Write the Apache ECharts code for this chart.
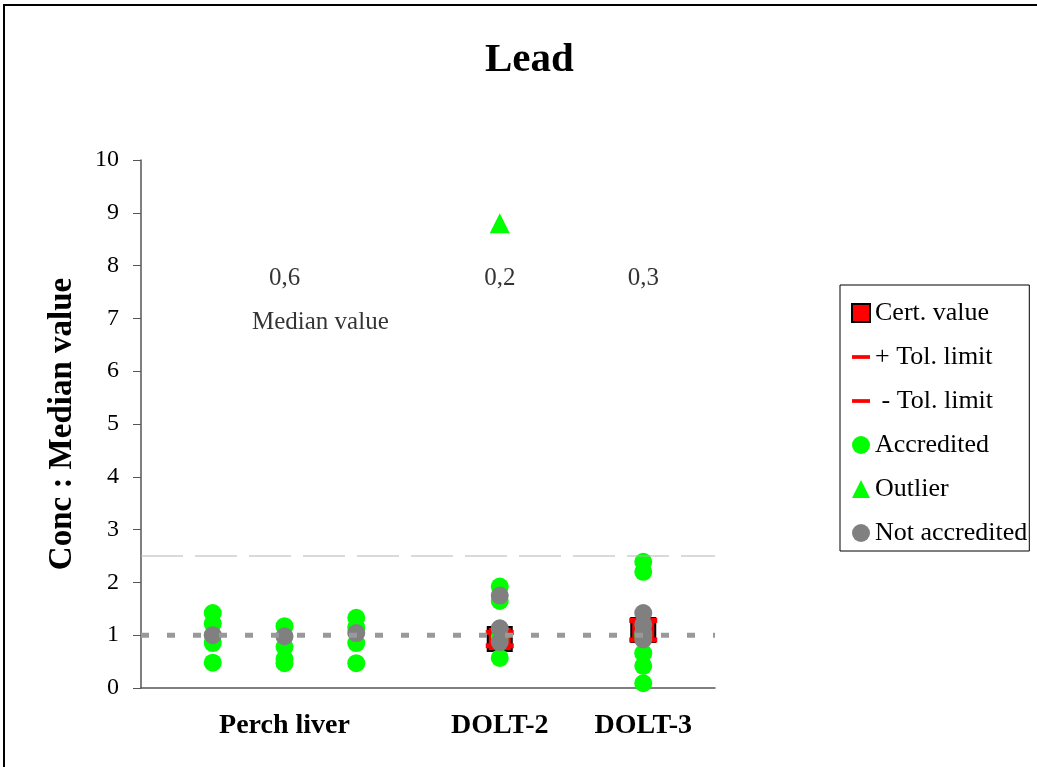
<!DOCTYPE html>
<html>
<head>
<meta charset="utf-8">
<script src="https://cdn.jsdelivr.net/npm/echarts@6/dist/echarts.min.js"></script>
<style>
html,body{margin:0;padding:0;background:#fff;}
#chart{width:1037px;height:767px;}
</style>
</head>
<body>
<div id="chart"></div>
<script>
// ---- data ----
const categoryPositions = [2, 5, 7];
const categoryLabels = ['Perch liver', 'DOLT-2', 'DOLT-3'];
const yTicks = [0,1,2,3,4,5,6,7,8,9,10];

const certValue = [[5, 0.93], [7, 1.10]];
const tolPlus = [[5, 1.05], [7, 1.28]];
const tolMinus = [[5, 0.80], [7, 0.91]];

const accredited = [
  [1, 1.42], [1, 1.22], [1, 0.85], [1, 0.48],
  [2, 1.17], [2, 0.78], [2, 0.55], [2, 0.47],
  [3, 1.33], [3, 1.15], [3, 0.85], [3, 0.47],
  [5, 1.92], [5, 1.65], [5, 0.97], [5, 0.57],
  [7, 2.39], [7, 2.20], [7, 1.00], [7, 0.66], [7, 0.42], [7, 0.09]
];
const outlier = [[5, 8.8]];
const notAccredited = [
  [1, 1.00],
  [2, 0.98],
  [3, 1.04],
  [5, 1.75], [5, 1.13], [5, 0.87],
  [7, 1.42], [7, 1.20], [7, 1.05], [7, 0.92]
];

const medianLabels = [
  { name: '0,6', value: [2, 7.75] },
  { name: '0,2', value: [5, 7.75] },
  { name: '0,3', value: [7, 7.75] },
  { name: 'Median value', value: [2.5, 6.93] }
];
const medianLine = [[0, 1], [8, 1]];
const upperLine = [[0, 2.5], [8, 2.5]];

// ---- chart ----
const FONT = 'Liberation Serif';
const chart = echarts.init(document.getElementById('chart'), null, { renderer: 'canvas' });
const labelMap = {};
categoryPositions.forEach((p, i) => { labelMap[p] = categoryLabels[i]; });
const tolPath = 'path://M0,0h24v5h-24z';

chart.setOption({
  backgroundColor: '#fff',
  animation: false,
  graphic: [{
    type: 'rect', z: 100, silent: true,
    shape: { x: 4, y: 5, width: 1200, height: 1000 },
    style: { fill: 'none', stroke: '#000', lineWidth: 2 }
  }],
  title: {
    text: 'Lead', left: 480, top: 35,
    textStyle: { fontFamily: FONT, fontSize: 41, fontWeight: 'bold', color: '#000' }
  },
  legend: {
    orient: 'vertical', left: 840, top: 285,
    padding: [15, 2, 5, 11],
    itemWidth: 18, itemHeight: 18, itemGap: 18,
    borderColor: '#000', borderWidth: 1,
    textStyle: { fontFamily: FONT, fontSize: 26, color: '#000' },
    data: [
      { name: 'Cert. value', icon: 'rect' },
      { name: '+ Tol. limit', icon: tolPath },
      { name: ' - Tol. limit', icon: tolPath },
      { name: 'Accredited', icon: 'circle' },
      { name: 'Outlier', icon: 'triangle' },
      { name: 'Not accredited', icon: 'circle' }
    ]
  },
  grid: { left: 141, right: 322, top: 160, bottom: 79 },
  xAxis: {
    type: 'value', min: 0, max: 8, interval: 1,
    axisLine: { show: true, lineStyle: { color: '#555', width: 1.5 } },
    axisTick: { show: false },
    splitLine: { show: false },
    axisLabel: {
      margin: 24,
      fontFamily: FONT, fontSize: 28, fontWeight: 'bold', color: '#000',
      formatter: v => labelMap[v] || ''
    }
  },
  yAxis: {
    type: 'value', min: 0, max: 10, interval: 1,
    name: 'Conc : Median value', nameLocation: 'middle', nameGap: 62,
    nameTextStyle: { fontFamily: FONT, fontSize: 33, fontWeight: 'bold', color: '#000' },
    axisLine: { show: true, lineStyle: { color: '#555', width: 1.5 } },
    axisTick: { show: true, length: 8, lineStyle: { color: '#555' } },
    splitLine: { show: false },
    axisLabel: {
      margin: 22, fontFamily: FONT, fontSize: 24, color: '#000',
      formatter: v => yTicks.includes(v) ? String(v) : ''
    }
  },
  series: [
    {
      name: 'upper', type: 'line', data: upperLine, symbol: 'none', silent: true,
      lineStyle: { color: '#b4b4b4', width: 1, type: [42, 12] }
    },
    {
      name: 'median', type: 'line', data: medianLine, symbol: 'none', silent: true,
      lineStyle: { color: '#999', width: 5, type: [8, 18] }
    },
    {
      name: 'Cert. value', type: 'scatter', data: certValue, symbol: 'rect', symbolSize: 24,
      itemStyle: { color: '#ff0000', borderColor: '#000', borderWidth: 2, opacity: 1 }
    },
    {
      name: '+ Tol. limit', type: 'scatter', data: tolPlus, symbol: 'rect', symbolSize: [28, 5],
      itemStyle: { color: '#ff0000', opacity: 1 }
    },
    {
      name: ' - Tol. limit', type: 'scatter', data: tolMinus, symbol: 'rect', symbolSize: [28, 5],
      itemStyle: { color: '#ff0000', opacity: 1 }
    },
    {
      name: 'Accredited', type: 'scatter', data: accredited, symbol: 'circle', symbolSize: 18,
      itemStyle: { color: '#00ff00', opacity: 1 }
    },
    {
      name: 'Outlier', type: 'scatter', data: outlier, symbol: 'triangle', symbolSize: 20,
      itemStyle: { color: '#00ff00', opacity: 1 }
    },
    {
      name: 'Not accredited', type: 'scatter', data: notAccredited, symbol: 'circle', symbolSize: 18,
      itemStyle: { color: '#808080', opacity: 1 }
    },
    {
      name: 'labels', type: 'scatter', data: medianLabels, symbolSize: 0, silent: true,
      label: {
        show: true, position: 'inside', formatter: '{b}',
        fontFamily: FONT, fontSize: 25, color: '#000'
      }
    }
  ]
});
</script>
</body>
</html>
